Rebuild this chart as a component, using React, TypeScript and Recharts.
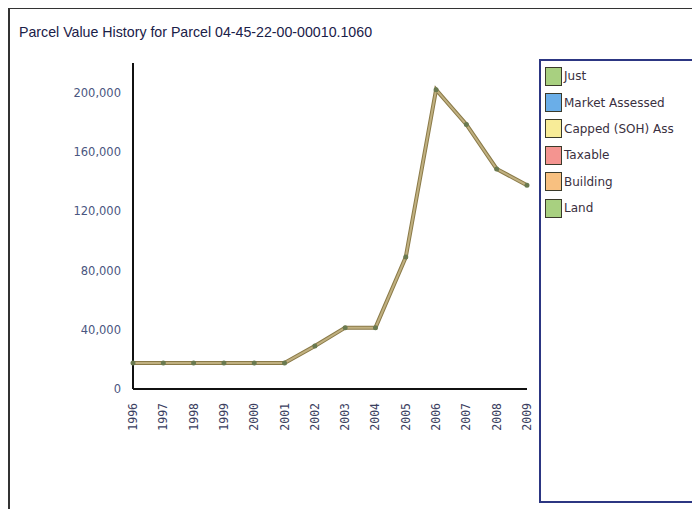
import React from "react";
import { LineChart, Line, XAxis, YAxis } from "recharts";

const years = ["1996", "1997", "1998", "1999", "2000", "2001", "2002", "2003", "2004", "2005", "2006", "2007", "2008", "2009"];
const justValues = [17600, 17600, 17600, 17600, 17600, 17600, 29000, 41400, 41400, 89000, 202000, 178500, 148500, 137500];
const yTicks = [0, 40000, 80000, 120000, 160000, 200000];
const legendNames = ["Just", "Market Assessed", "Capped (SOH) Ass", "Taxable", "Building", "Land"];
const legendColors = ["#a8d080", "#6aaee8", "#f8ec98", "#f49490", "#f8c080", "#a8d080"];

const data = years.map((y, i) => ({ year: y, just: justValues[i] }));

const XTick = (props: any) => {
  const { x, y, payload } = props;
  return (
    <text
      x={0}
      y={0}
      transform={`translate(${x + 4},${y + 6}) rotate(-90)`}
      textAnchor="end"
      fontFamily="'DejaVu Sans Mono', monospace"
      fontSize={11.5}
      fill="#3a4060"
    >
      {payload.value}
    </text>
  );
};

const fmt = (v: number) => v.toLocaleString("en-US");

const LegendBox = () => (
  <div
    style={{
      position: "absolute",
      left: 529,
      top: 50,
      width: 154,
      height: 438,
      border: "2px solid #2c3682",
      boxSizing: "content-box",
      overflow: "hidden",
      fontFamily: "'DejaVu Sans', sans-serif",
      fontSize: 12,
      color: "#3a3040",
      paddingTop: 2,
    }}
  >
    {legendNames.map((n, i) => (
      <div key={n} style={{ display: "flex", alignItems: "center", height: 26.4, whiteSpace: "nowrap" }}>
        <span
          style={{
            display: "inline-block",
            width: 15,
            height: 17,
            marginLeft: 4,
            marginRight: 2,
            background: legendColors[i],
            border: "1px solid #3a3a2a",
            flex: "0 0 auto",
          }}
        />
        <span>{n}</span>
      </div>
    ))}
  </div>
);

export default function App() {
  return (
    <div
      style={{
        position: "relative",
        width: 700,
        height: 502,
        marginTop: -1,
        borderTop: "2px solid #333",
        borderLeft: "2px solid #333",
        boxSizing: "border-box",
        overflow: "hidden",
        fontFamily: "'DejaVu Sans', sans-serif",
      }}
    >
      <div
        style={{
          position: "absolute",
          left: 9,
          top: 15,
          fontFamily: "'Liberation Sans', Arial, sans-serif",
          fontSize: 14.2,
          color: "#1a2048",
          whiteSpace: "nowrap",
        }}
      >
        Parcel Value History for Parcel 04-45-22-00-00010.1060
      </div>
      <div style={{ position: "absolute", left: -2, top: -1 }}>
        <LineChart width={692} height={502} data={data} margin={{ top: 55, right: 173, bottom: 71, left: 0 }}>
          <XAxis
            dataKey="year"
            type="category"
            scale="point"
            padding={{ left: 0, right: 0 }}
            interval={0}
            height={50}
            axisLine={{ stroke: "#111", strokeWidth: 2 }}
            tickLine={false}
            tick={<XTick />}
          />
          <YAxis
            width={125}
            domain={[0, 220000]}
            ticks={yTicks}
            interval={0}
            axisLine={{ stroke: "#111", strokeWidth: 2 }}
            tickLine={false}
            tickFormatter={fmt}
            tick={{ fill: "#4a5680", fontSize: 11.5, fontFamily: "'DejaVu Sans', sans-serif" }}
            tickMargin={6}
          />
          <Line
            type="linear"
            dataKey="just"
            name="Just"
            stroke="#8a7a48"
            strokeWidth={4}
            dot={false}
            isAnimationActive={false}
          />
          <Line
            type="linear"
            dataKey="just"
            name="Market Assessed"
            stroke="#c0b080"
            strokeWidth={2}
            dot={{ r: 1.5, fill: "#6a7a50", stroke: "#6a7a50" }}
            isAnimationActive={false}
          />
        </LineChart>
      </div>
      <LegendBox />
    </div>
  );
}
